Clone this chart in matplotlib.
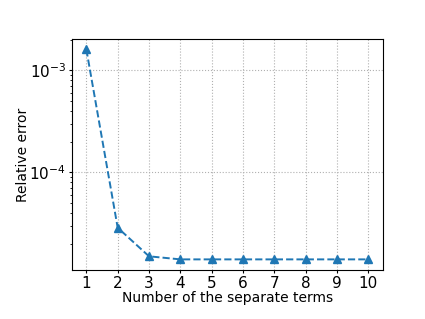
import matplotlib
matplotlib.use("Agg")
import matplotlib.pyplot as plt

terms = [1, 2, 3, 4, 5, 6, 7, 8, 9, 10]
rel_error = [1.6e-3, 2.86e-5, 1.50e-5, 1.40e-5, 1.40e-5, 1.40e-5, 1.40e-5, 1.40e-5, 1.40e-5, 1.40e-5]

fig = plt.figure(figsize=(4.25, 3.19), dpi=100)
ax = fig.add_subplot(111)
fig.subplots_adjust(left=0.17, bottom=0.154, right=0.9, top=0.878)
ax.plot(terms, rel_error, '^--', color='C0', markersize=5.5, linewidth=1.4)
ax.set_yscale('log')
ax.set_xticks(terms)
ax.tick_params(axis='both', which='major', labelsize=11, length=2.5, pad=2)
ax.tick_params(axis='y', which='minor', length=1.5)
ax.grid(True, linestyle=':', color='#b0b0b0')
ax.set_xlabel('Number of the separate terms', labelpad=0)
ax.set_ylabel('Relative error', labelpad=-0.5)
fig.savefig('out.png', dpi=100)
